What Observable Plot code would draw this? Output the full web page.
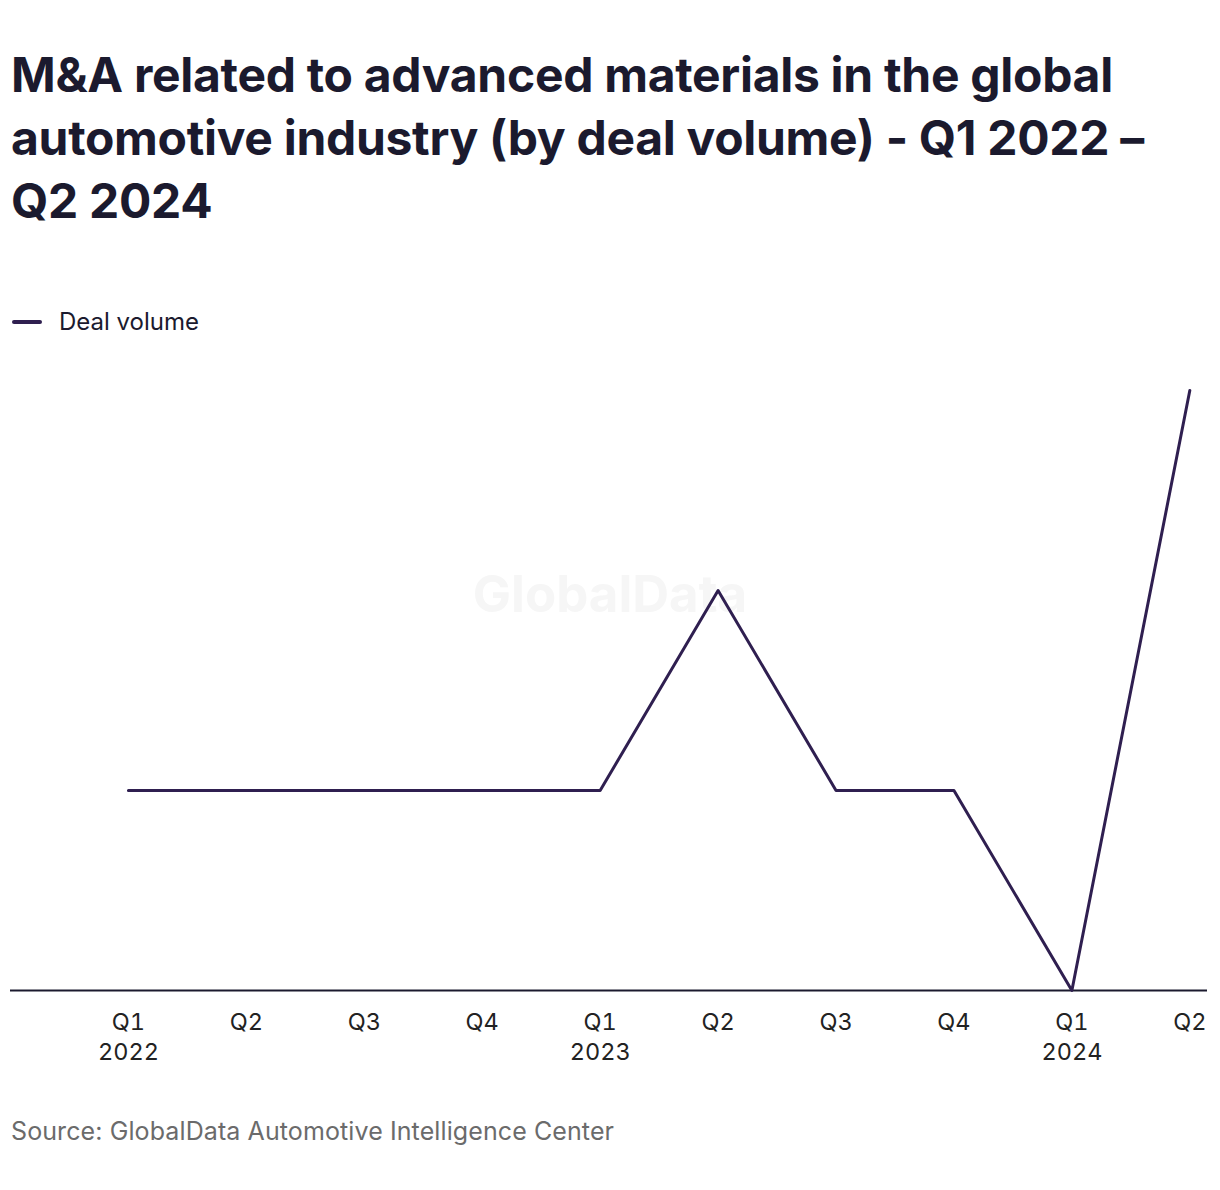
<!DOCTYPE html>
<html>
<head>
<meta charset="utf-8">
<script src="https://cdn.jsdelivr.net/npm/d3@7"></script>
<script src="https://cdn.jsdelivr.net/npm/@observablehq/plot@0.6"></script>
<style>
  html, body { margin: 0; padding: 0; background: #fff; }
  body { width: 1220px; height: 1190px; position: relative; font-family: Inter, "Noto Sans", sans-serif; color: #1b1b2f; overflow: hidden; }
  #title { position: absolute; left: 11px; top: 43px; width: 1180px; font-size: 48px; font-weight: 700; line-height: 63px; letter-spacing: -0.3px; color: #1b1a2e; }
  #legend { position: absolute; left: 12px; top: 307px; font-size: 24px; line-height: 30px; display: flex; align-items: center; color: #1b1a2e; }
  #legend .sw { display: inline-block; width: 30px; height: 4px; border-radius: 2px; background: #2f1f50; margin-right: 17px; }
  #watermark { position: absolute; left: 0; width: 1220px; top: 564px; line-height: 60px; text-align: center; font-size: 51px; font-weight: 700; color: #f6f6f6; }
  #chart { position: absolute; left: 0; top: 360px; }
  #source { position: absolute; left: 11px; top: 1116px; font-size: 25px; letter-spacing: 0.1px; color: #6b6b6b; }
</style>
</head>
<body>
<div id="title">M&amp;A related to advanced materials in the global automotive industry (by deal volume) - Q1 2022 – Q2 2024</div>
<div id="legend"><span class="sw"></span>Deal volume</div>
<div id="watermark">GlobalData</div>
<div id="chart"></div>
<div id="source">Source: GlobalData Automotive Intelligence Center</div>
<script>
const quarters = ["Q1", "Q2", "Q3", "Q4", "Q1", "Q2", "Q3", "Q4", "Q1", "Q2"];
const years = ["2022", "", "", "", "2023", "", "", "", "2024", ""];
const dealVolume = [1, 1, 1, 1, 1, 2, 1, 1, 0, 3];

const data = quarters.map((q, i) => ({i, q, year: years[i], v: dealVolume[i]}));

const chart = Plot.plot({
  width: 1220,
  height: 720,
  marginLeft: 10,
  marginRight: 13,
  marginTop: 30,
  marginBottom: 90,
  x: {domain: [-1, 9.15]},
  y: {domain: [0, 3], axis: null},
  style: {background: "transparent", fontFamily: "Inter, 'Noto Sans', sans-serif"},
  marks: [
    Plot.axisX({
      ticks: data.map(d => d.i),
      tickFormat: i => data[i].year ? `${data[i].q}\n${data[i].year}` : data[i].q,
      tickSize: 0,
      tickPadding: 19,
      fontSize: 23.5,
      lineHeight: 1.25,
      fill: "#222",
      label: null
    }),
    Plot.ruleY([0], {stroke: "#1b1a2e", strokeWidth: 2}),
    Plot.line(data, {x: "i", y: "v", stroke: "#2f1f50", strokeWidth: 3})
  ]
});
document.getElementById("chart").appendChild(chart);
</script>
</body>
</html>
